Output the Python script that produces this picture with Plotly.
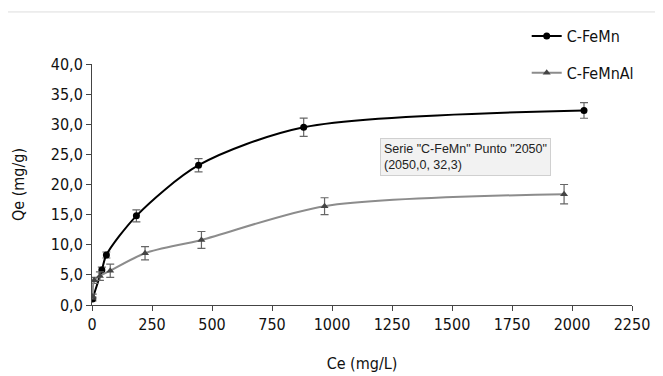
import plotly.graph_objects as go

# C-FeMn series
ce_fm = [2, 41, 60, 185, 444, 882, 2050]
qe_fm = [1.0, 5.8, 8.3, 14.8, 23.2, 29.5, 32.3]
err_fm = [0.3, 0.5, 0.5, 1.0, 1.1, 1.5, 1.3]

# C-FeMnAl series
ce_fma = [3, 9, 33, 76, 221, 456, 969, 1967]
qe_fma = [1.4, 4.1, 4.8, 5.7, 8.6, 10.8, 16.4, 18.4]
err_fma = [0.4, 0.5, 0.7, 1.1, 1.1, 1.4, 1.4, 1.6]

x_ticks = [0, 250, 500, 750, 1000, 1250, 1500, 1750, 2000, 2250]
y_ticks = [0, 5, 10, 15, 20, 25, 30, 35, 40]

FONT = "DejaVu Sans Condensed, Liberation Sans Narrow, Arial Narrow, sans-serif"

fig = go.Figure()
fig.add_trace(go.Scatter(
    x=ce_fm, y=qe_fm, name="C-FeMn", mode="lines+markers",
    line=dict(color="#000000", width=2, shape="spline", smoothing=0.8),
    marker=dict(symbol="circle", size=7, color="#000000"),
    error_y=dict(type="data", array=err_fm, visible=True, color="#666666", thickness=1.2, width=4),
    legendgroup="a",
))
fig.add_trace(go.Scatter(
    x=ce_fma, y=qe_fma, name="C-FeMnAl", mode="lines+markers",
    line=dict(color="#8c8c8c", width=2, shape="spline", smoothing=0.8),
    marker=dict(symbol="triangle-up", size=7, color="#444444"),
    error_y=dict(type="data", array=err_fma, visible=True, color="#666666", thickness=1.2, width=4),
    legendgroup="b",
))

fig.add_annotation(
    x=1200, y=27.7, xref="x", yref="y", xanchor="left", yanchor="top",
    text='Serie "C-FeMn" Punto "2050"<br>(2050,0, 32,3)',
    showarrow=False, align="left",
    font=dict(family="Liberation Sans, Arial, sans-serif", size=12.5, color="#222222"),
    bgcolor="#f2f2f2", bordercolor="#d0d0d0", borderwidth=1, borderpad=3,
)

fig.add_shape(type="rect", xref="paper", yref="paper",
              x0=-0.161, x1=1.06, y0=-0.5, y1=1.216,
              line=dict(color="#dddddd", width=1), layer="below")

fig.update_layout(
    width=655, height=368,
    margin=dict(l=84, r=31, t=56, b=71, autoexpand=False),
    paper_bgcolor="white", plot_bgcolor="white",
    separators=",.",
    font=dict(family=FONT, size=16, color="#111111"),
    showlegend=True,
    legend=dict(x=0.805, y=1.186, xanchor="left", yanchor="top",
                font=dict(family=FONT, size=16, color="#111111"),
                tracegroupgap=13, bgcolor="rgba(0,0,0,0)", itemwidth=30),
    xaxis=dict(
        range=[0, 2250], tickvals=x_ticks, tickformat="d", automargin=False,
        showgrid=False, zeroline=False,
        showline=True, linecolor="#444444", linewidth=1,
        ticks="outside", ticklen=5, tickcolor="#444444",
        title=dict(text="Ce (mg/L)", font=dict(family=FONT, size=16), standoff=24),
    ),
    yaxis=dict(
        range=[0, 40], tickvals=y_ticks, tickformat=".1f", automargin=False,
        showgrid=False, zeroline=False,
        showline=True, linecolor="#444444", linewidth=1,
        ticks="outside", ticklen=5, tickcolor="#444444",
        title=dict(text="Qe (mg/g)", font=dict(family=FONT, size=16), standoff=22),
    ),
)

fig.write_html("out.html")
